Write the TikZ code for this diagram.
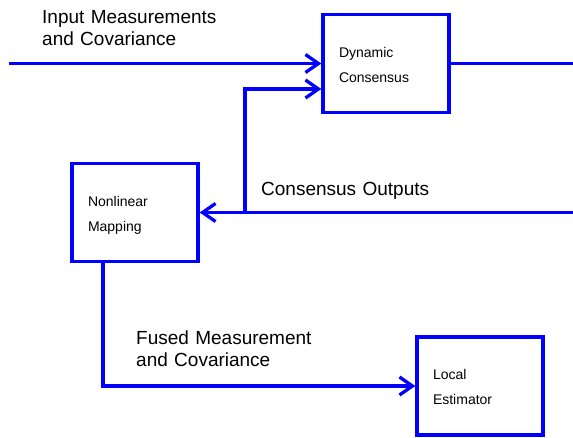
\documentclass[tikz,border=0pt]{standalone}
\usepackage{fontspec}
\setmainfont{Liberation Sans}
\usepackage{tikz}
\usetikzlibrary {arrows.meta}

\tikzset{
  blk/.style={draw=blue,line width=3.3pt,minimum width=126pt,minimum height=98pt,inner sep=0pt,
    text width=94pt,align=left,text height=10pt,text depth=23pt,font=\fontsize{14}{25}\selectfont},
  lbl/.style={anchor=base west,inner sep=0pt,text width=220pt,align=left,font=\fontsize{19}{22}\selectfont},
  wire/.style={draw=blue,line width=3.3pt},
  arw/.style={-{Straight Barb[length=13pt,width=18pt]}}
}

\begin{document}
\begin{tikzpicture}[x=1pt,y=-1pt]
       \useasboundingbox (0,0) rectangle (573,437);
       \node[blk] (dyn) at (386,63.5) {Dynamic\\Consensus};%合意
       \node[blk] (nlm) at (135,212.5) {Nonlinear\\Mapping};%写像
       \node[blk] (loc) at (480,386) {Local\\Estimator};%推定

       \coordinate (inp) at (9,63.5);
       \coordinate (outR) at (573,63.5);
       \coordinate (coR) at (573,212.5);
       \coordinate (br) at (245,212.5);
       \coordinate (brT) at (245,89);
       \coordinate (fx) at (103,262);

       \node[lbl] (inlbl) at (42,23) {Input Measurements\\and Covariance};
       \node[lbl] (colbl) at (261,195) {Consensus Outputs};
       \node[lbl] (fulbl) at (136,344) {Fused Measurement\\and Covariance};

        \draw[wire,arw](inp)--(dyn.west);%入力
        \draw[wire](dyn.east)--(outR);%出力
        \draw[wire,arw](coR)--(nlm.east);
        \draw[wire,arw](br)--(brT)--(brT -| dyn.west);%帰還
        \draw[wire,arw](fx)|-(loc.west);
      \end{tikzpicture}
\end{document}
